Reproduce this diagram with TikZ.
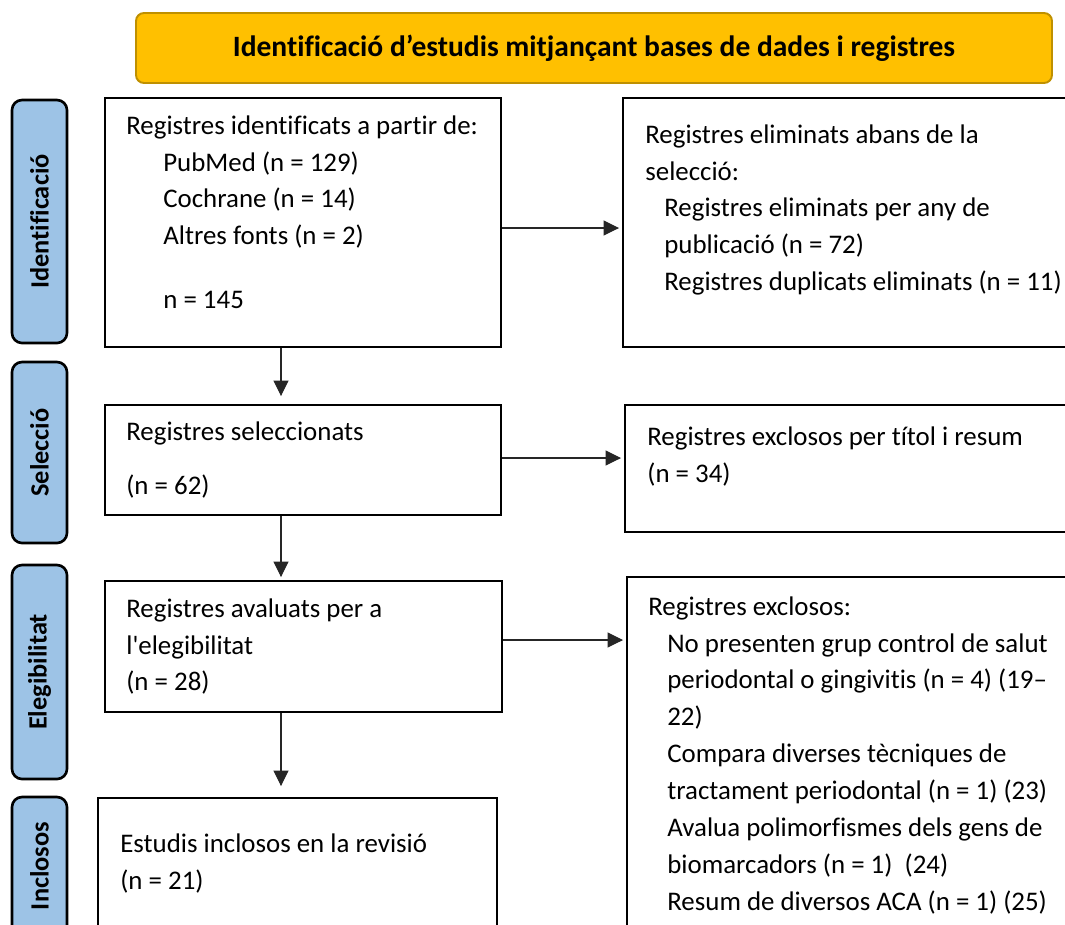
\documentclass[tikz,border=0pt]{standalone}
\usepackage{fontspec}
\setmainfont{Carlito}[Ligatures={TeX,NoCommon}]
\usepackage{tikz}
\usetikzlibrary{positioning}
\usetikzlibrary{fit}
\usetikzlibrary{arrows.meta}
\usepackage{xcolor}

\definecolor{titlegold}{HTML}{FFC000}
\definecolor{titleedge}{HTML}{BF9000}
\definecolor{stageblue}{HTML}{9DC3E6}

\tikzset{
  box/.style={draw=black, line width=1.1pt, inner sep=0pt},
  stage/.style={draw=black, fill=stageblue, line width=1.5pt, rounded corners=0.2cm, inner sep=0pt},
  stagetext/.style={rotate=90, inner sep=0pt, font=\fontsize{15}{18}\selectfont\bfseries},
  txt/.style={align=left, anchor=north west, inner sep=0pt, font=\fontsize{15.3}{21}\selectfont},
  arr/.style={-{Triangle[length=0.31cm,width=0.3cm]}, line width=0.6pt, black!85},
}

\begin{document}
\begin{tikzpicture}[x=0.02cm, y=-0.02cm]

\useasboundingbox (0,0) rectangle (1065,924);
\clip (0,0) rectangle (1065,924);

% title bar
\node[draw=titleedge, fill=titlegold, line width=1.1pt, rounded corners=0.16cm, inner sep=0pt, fit={(136,13) (1052,83)}] (title) {};
\node[inner sep=0pt, font=\fontsize{16.8}{20}\selectfont\bfseries] (titletext) at (title.center) {Identificació d’estudis mitjançant bases de dades i registres};

% stages on the left
\node[stage, fit={(12,100) (67,343)}] (s1) {};
\node[stagetext] (s1text) at (s1.center) {Identificació};
\node[stage, fit={(12,362) (67,543)}] (s2) {};
\node[stagetext] (s2text) at (s2.center) {Selecció};
\node[stage, fit={(12,565) (67,779)}] (s3) {};
\node[stagetext] (s3text) at (s3.center) {Elegibilitat};
\node[stage, fit={(12,797) (67,935)}] (s4) {};
\node[stagetext] (s4text) at (s4.center) {Inclosos};

% main column
\node[box, fit={(105,98) (501,347)}] (b1) {};
\node[txt] (b1text) at (126,108) {\strut Registres identificats a partir de:\\
\hspace*{0.74cm}PubMed (n = 129)\\
\hspace*{0.74cm}Cochrane (n = 14)\\
\hspace*{0.74cm}Altres fonts (n = 2)\\[15pt]
\hspace*{0.74cm}n = 145};

\node[box, fit={(105,405) (501,515)}] (b2) {};
\node[txt] (b2text) at (126,414) {\strut Registres seleccionats\\[10pt]
(n = 62)};

\node[box, fit={(105,581) (502,712)}] (b3) {};
\node[txt] (b3text) at (126,591) {\strut Registres avaluats per a\\
l\textquotesingle elegibilitat\\
(n = 28)};

\node[box, fit={(98,798) (497,940)}] (b4) {};
\node[txt] (b4text) at (120,826) {\strut Estudis inclosos en la revisió\\
(n = 21)};

% side column
\node[box, fit={(623,98) (1080,347)}] (r1) {};
\node[txt] (r1text) at (645,117) {\strut Registres eliminats abans de la\\
selecció:\\
\hspace*{0.38cm}Registres eliminats per any de\\
\hspace*{0.38cm}publicació (n = 72)\\
\hspace*{0.38cm}Registres duplicats eliminats (n = 11)};

\node[box, fit={(625,405) (1080,532)}] (r2) {};
\node[txt] (r2text) at (647,419) {\strut Registres exclosos per títol i resum\\
(n = 34)};

\node[box, fit={(627,577) (1080,940)}] (r3) {};
\node[txt] (r3text) at (648,589) {\strut Registres exclosos:\\
\hspace*{0.38cm}No presenten grup control de salut\\
\hspace*{0.38cm}periodontal o gingivitis (n = 4) (19–\\
\hspace*{0.38cm}22)\\
\hspace*{0.38cm}Compara diverses tècniques de\\
\hspace*{0.38cm}tractament periodontal (n = 1) (23)\\
\hspace*{0.38cm}Avalua polimorfismes dels gens de\\
\hspace*{0.38cm}biomarcadors (n = 1) \ (24)\\
\hspace*{0.38cm}Resum de diversos ACA (n = 1) (25)};

% arrows
\coordinate (spine) at (281,0);
\coordinate (h1) at (0,228);
\coordinate (h2) at (0,458);
\coordinate (h3) at (0,640);

\draw[arr, shorten >=0.16cm] (b1.south -| spine) -- (b2.north -| spine);
\draw[arr, shorten >=0.06cm] (b2.south -| spine) -- (b3.north -| spine);
\draw[arr, shorten >=0.22cm] (b3.south -| spine) -- (b4.north -| spine);

\draw[arr, shorten >=0.06cm] (b1.east |- h1) -- (r1.west |- h1);
\draw[arr, shorten >=0.06cm] (b2.east |- h2) -- (r2.west |- h2);
\draw[arr, shorten >=0.06cm] (b3.east |- h3) -- (r3.west |- h3);

\end{tikzpicture}
\end{document}
